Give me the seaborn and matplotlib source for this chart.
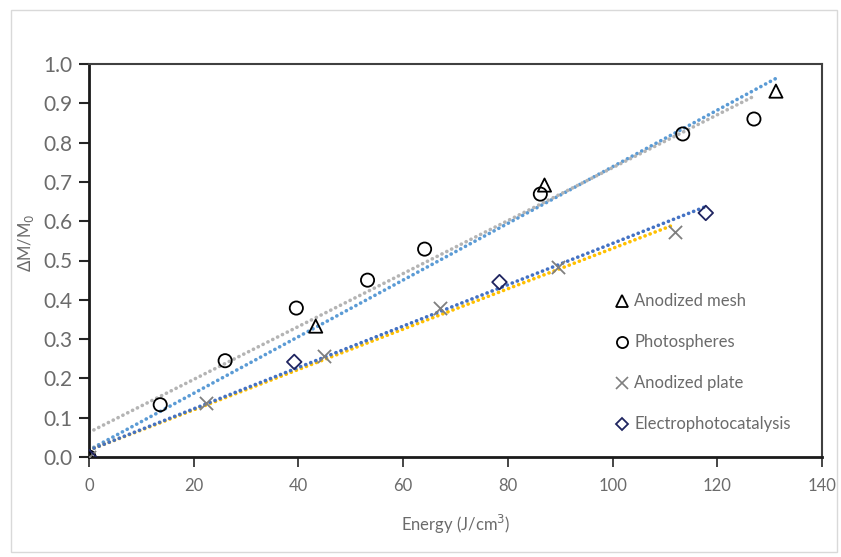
import numpy as np
import pandas as pd
import matplotlib
matplotlib.use("Agg")
import matplotlib.pyplot as plt
import seaborn as sns
from matplotlib.lines import Line2D
from matplotlib.patches import Rectangle

# ---- data ----
mesh_x = [0, 43.3, 87.0, 131.2]
mesh_y = [0, 0.333, 0.692, 0.931]

photo_x = [0, 13.6, 26.0, 39.6, 53.2, 64.1, 86.2, 113.4, 127.0]
photo_y = [0, 0.133, 0.245, 0.379, 0.450, 0.529, 0.669, 0.822, 0.860]

plate_x = [0, 22.4, 44.9, 67.1, 89.5, 111.9]
plate_y = [0, 0.137, 0.257, 0.379, 0.483, 0.572]

elec_x = [0, 39.2, 78.4, 117.8]
elec_y = [0, 0.242, 0.445, 0.621]

labels = ["Anodized mesh", "Photospheres", "Anodized plate", "Electrophotocatalysis"]
x_ticks = [0, 20, 40, 60, 80, 100, 120, 140]
y_ticks = [0.0, 0.1, 0.2, 0.3, 0.4, 0.5, 0.6, 0.7, 0.8, 0.9, 1.0]

series = [
    (labels[0], mesh_x, mesh_y, "^", "none", "#000000", "#5B9BD5"),
    (labels[1], photo_x, photo_y, "o", "none", "#000000", "#B4B4B4"),
    (labels[2], plate_x, plate_y, "x", "#7F7F7F", "#7F7F7F", "#FFC000"),
    (labels[3], elec_x, elec_y, "D", "none", "#1F2460", "#4472C4"),
]

sns.set_theme(style="white")
plt.rcParams['font.family'] = ['Lato', 'DejaVu Sans']

fig = plt.figure(figsize=(8.41, 5.57), dpi=100)
ax = fig.add_axes([89/841, 1-457/557, (822-89)/841, (457-64)/557])

# trendlines
for name, xs, ys, m, fc, ec, lc in series:
    coef = np.polyfit(xs, ys, 1)
    xx = np.linspace(0, max(xs), 50)
    df = pd.DataFrame({"x": xx, "y": np.polyval(coef, xx)})
    sns.lineplot(data=df, x="x", y="y", ax=ax, color=lc, lw=2.6,
                 linestyle=(0, (0.05, 1.45)), dash_capstyle="round", zorder=2)

# markers
handles = []
for name, xs, ys, m, fc, ec, lc in series:
    df = pd.DataFrame({"x": xs, "y": ys})
    size = 90 if m != "D" else 55
    if m == "x":
        sns.scatterplot(data=df, x="x", y="y", ax=ax, marker="x", s=size,
                        color=ec, linewidth=1.3, zorder=3)
        handles.append(Line2D([], [], marker="x", ls="", color=ec, markersize=8, mew=1.2))
    else:
        sns.scatterplot(data=df, x="x", y="y", ax=ax, marker=m, s=size,
                        facecolor="none", edgecolor=ec, linewidth=1.3, zorder=3)
        handles.append(Line2D([], [], marker=m, ls="", markerfacecolor="none",
                              markeredgecolor=ec, markersize=8 if m != "D" else 6, mew=1.3))

ax.set_xlim(0, 140)
ax.set_ylim(0, 1.0)
ax.set_xticks(x_ticks)
ax.set_yticks(y_ticks)
ax.set_yticklabels([f"{v:.1f}" for v in y_ticks])
ax.tick_params(axis="y", labelsize=15, labelcolor="#6b6b6b", direction="out",
               length=7, width=1.5, color="#262626", left=True, pad=5)
ax.tick_params(axis="x", labelsize=12, labelcolor="#6b6b6b", direction="out",
               length=7, width=1.2, color="#262626", bottom=True, pad=8)

for side in ["left", "bottom"]:
    ax.spines[side].set_color("#1a1a1a")
    ax.spines[side].set_linewidth(2.0)
for side in ["top", "right"]:
    ax.spines[side].set_color("#404040")
    ax.spines[side].set_linewidth(1.5)

ax.set_xlabel("Energy (J/cm$^3$)", fontsize=12, color="#6b6b6b", labelpad=14)
ax.set_ylabel("")
fig.text(26/841, 1-243/557, "ΔM/M$_0$", rotation=90, fontsize=12, color="#6b6b6b",
         ha="center", va="center")

leg = ax.legend(handles, labels, loc="upper left", bbox_to_anchor=(604/841, 1-285/557),
                bbox_transform=fig.transFigure, frameon=False, fontsize=12,
                labelspacing=1.5, handletextpad=0.1, handlelength=1.2, borderpad=0)
for t in leg.get_texts():
    t.set_color("#6b6b6b")

fig.patches.append(Rectangle((11/841, 5/557), 826/841, 542/557, transform=fig.transFigure,
                             fill=False, edgecolor="#D9D9D9", lw=1.0))

fig.savefig("out.png", dpi=100)
